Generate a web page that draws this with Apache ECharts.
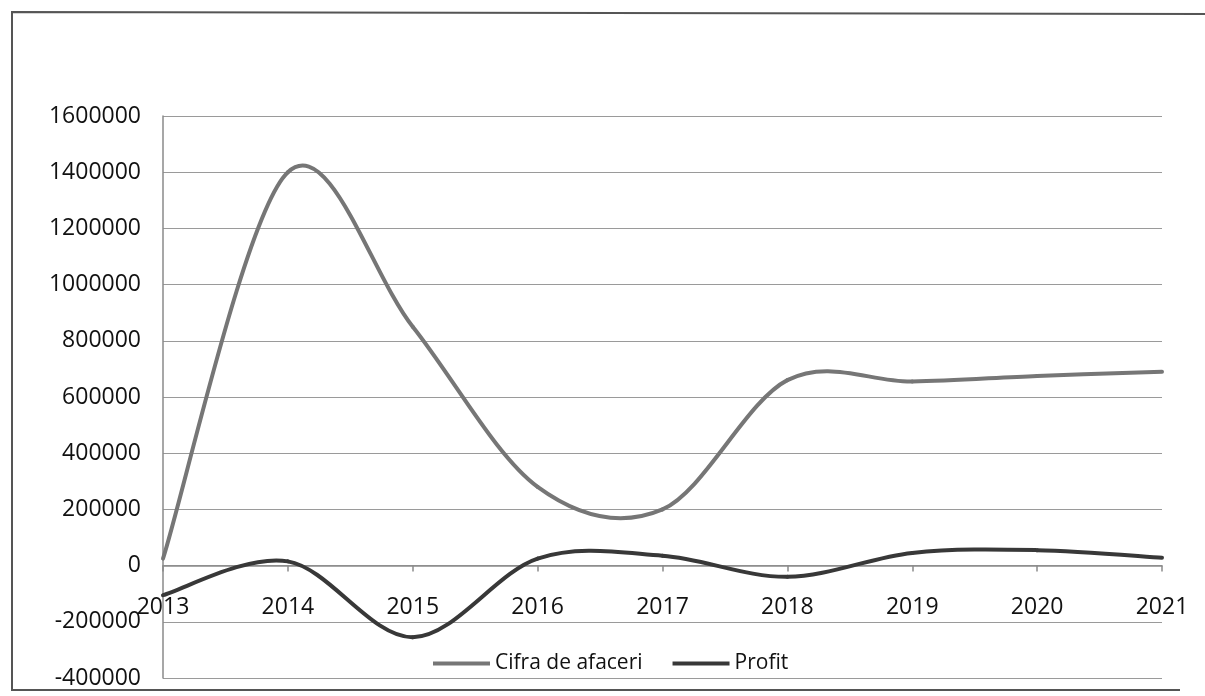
<!DOCTYPE html>
<html>
<head>
<meta charset="utf-8">
<script src="https://cdn.jsdelivr.net/npm/echarts@6/dist/echarts.min.js"></script>
<style>
html,body{margin:0;padding:0;background:#fff;}
#chart{width:1205px;height:696px;}
</style>
</head>
<body>
<div id="chart"></div>
<script>
const years = ['2013','2014','2015','2016','2017','2018','2019','2020','2021'];
const cifraDeAfaceri = [25000, 1400000, 850000, 280000, 200000, 660000, 655000, 675000, 690000];
const profit = [-105000, 15000, -255000, 25000, 35000, -40000, 45000, 55000, 28000];
const yTicks = {min: -400000, max: 1600000, interval: 200000};

const FONT = '"Open Sans", "Noto Sans", sans-serif';
const GRID = {left: 163, right: 43, top: 116, bottom: 18};
const plotH = 696 - GRID.top - GRID.bottom;
// distance of the zero line above the bottom of the plot, derived from the axis range
const zeroOffset = plotH * (0 - yTicks.min) / (yTicks.max - yTicks.min);

// Excel-like smoothed line (Catmull-Rom Bezier segments), positioned through the axis scales
function smoothRenderer(values, color) {
  return function (params, api) {
    const i = params.dataIndex;
    const n = values.length;
    if (i >= n - 1) return null;
    const P = k => {
      const j = Math.max(0, Math.min(n - 1, k));
      return api.coord([j, values[j]]);
    };
    const p0 = P(i - 1), p1 = P(i), p2 = P(i + 1), p3 = P(i + 2);
    const t = 1 / 6;
    return {
      type: 'bezierCurve',
      shape: {
        x1: p1[0], y1: p1[1], x2: p2[0], y2: p2[1],
        cpx1: p1[0] + (p2[0] - p0[0]) * t, cpy1: p1[1] + (p2[1] - p0[1]) * t,
        cpx2: p2[0] - (p3[0] - p1[0]) * t, cpy2: p2[1] - (p3[1] - p1[1]) * t
      },
      style: {stroke: color, lineWidth: 4, fill: null, lineCap: 'round'}
    };
  };
}

const chart = echarts.init(document.getElementById('chart'));
chart.setOption({
  backgroundColor: '#ffffff',
  animation: false,
  grid: Object.assign({containLabel: false, outerBoundsMode: 'none'}, GRID),
  legend: {
    left: 428, top: 648,
    itemWidth: 57, itemHeight: 4, itemGap: 30,
    textStyle: {fontFamily: FONT, fontSize: 21, color: '#111111'},
    data: [{name: 'Cifra de afaceri', icon: 'rect'}, {name: 'Profit', icon: 'rect'}]
  },
  xAxis: {
    type: 'category',
    data: years,
    boundaryGap: false,
    position: 'bottom',
    offset: -zeroOffset,
    axisLine: {onZero: false, lineStyle: {color: '#8a8a8a', width: 1.5}},
    axisTick: {show: true, alignWithLabel: true, length: 6, inside: false, lineStyle: {color: '#8a8a8a', width: 1.5}},
    axisLabel: {fontFamily: FONT, fontSize: 23, color: '#111111', margin: 30, showMinLabel: true, showMaxLabel: true, interval: 0},
    splitLine: {show: false}
  },
  yAxis: {
    type: 'value',
    min: yTicks.min, max: yTicks.max, interval: yTicks.interval,
    axisLine: {show: true, lineStyle: {color: '#8a8a8a', width: 1.5}},
    axisTick: {show: false},
    axisLabel: {fontFamily: FONT, fontSize: 23, color: '#111111', margin: 22, formatter: v => String(v)},
    splitLine: {show: true, lineStyle: {color: '#9a9a9a', width: 1.2}}
  },
  graphic: [{
    type: 'polyline',
    shape: {points: [[1205, 14], [12, 12], [12, 690], [1180, 690]]},
    style: {fill: null, stroke: '#555555', lineWidth: 2},
    silent: true, z: -1
  }],
  series: [
    {
      name: 'Cifra de afaceri', type: 'custom',
      data: cifraDeAfaceri.map((v, i) => [i, v]),
      encode: {x: 0, y: 1},
      renderItem: smoothRenderer(cifraDeAfaceri, '#767676'),
      itemStyle: {color: '#767676'}
    },
    {
      name: 'Profit', type: 'custom',
      data: profit.map((v, i) => [i, v]),
      encode: {x: 0, y: 1},
      renderItem: smoothRenderer(profit, '#383838'),
      itemStyle: {color: '#383838'}
    }
  ]
});
</script>
</body>
</html>
